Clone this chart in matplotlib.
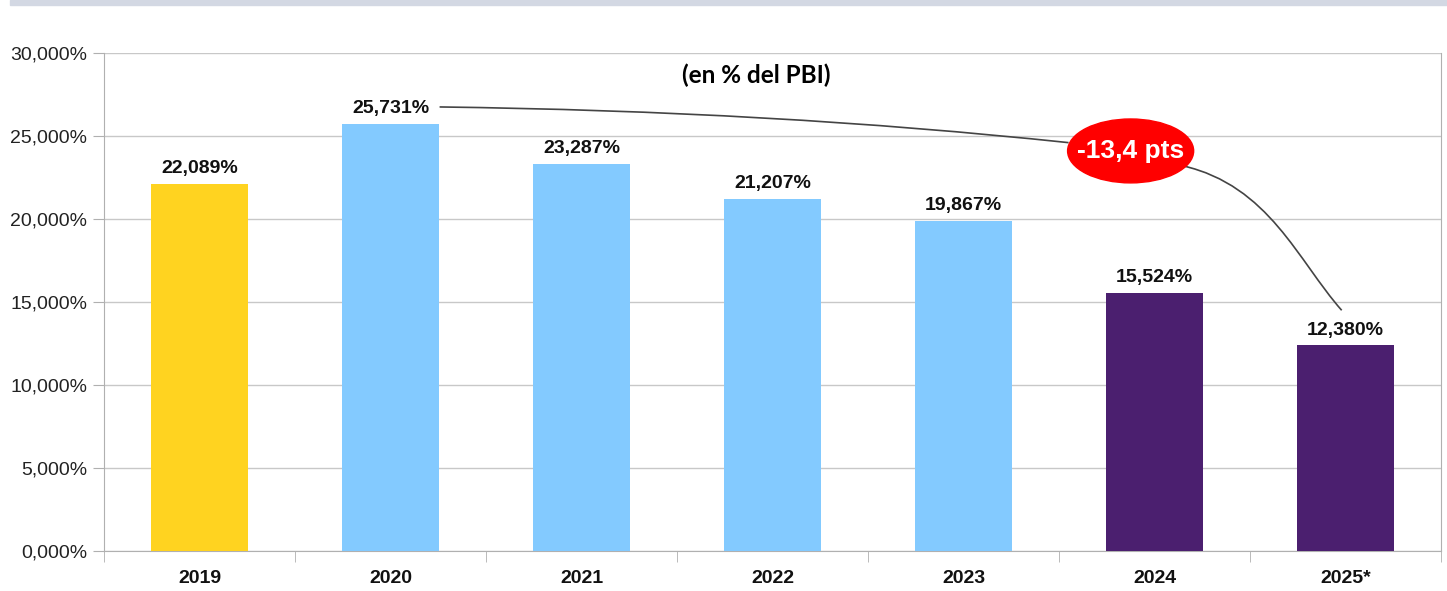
import matplotlib
matplotlib.use("Agg")
import matplotlib.pyplot as plt
from matplotlib.patches import Ellipse, Rectangle, PathPatch
from matplotlib.path import Path
from matplotlib.ticker import FuncFormatter

years = ["2019", "2020", "2021", "2022", "2023", "2024", "2025*"]
values = [22.089, 25.731, 23.287, 21.207, 19.867, 15.524, 12.380]
colors = ["#ffd320", "#83caff", "#83caff", "#83caff", "#83caff", "#4b1f6f", "#4b1f6f"]
yticks = [0, 5, 10, 15, 20, 25, 30]

plt.rcParams["font.family"] = ["Liberation Sans", "DejaVu Sans"]

fig = plt.figure(figsize=(14.47, 5.91), dpi=100)
ax = fig.add_axes([104 / 1447, 1 - 551 / 591, 1337 / 1447, 498 / 591])

# band at top of slide
fig.patches.append(Rectangle((10 / 1447, 1 - 5 / 591), 1, 5 / 591, transform=fig.transFigure,
                             color="#d3d8e3", zorder=0))

x = list(range(len(years)))
ax.bar(x, values, width=0.51, color=colors, zorder=3)
for xi, v in zip(x, values):
    ax.annotate(f"{v:.3f}%".replace(".", ","), (xi, v), textcoords="offset points",
                xytext=(0, 5), ha="center", va="bottom", fontsize=14, fontweight="bold",
                color="#111111", zorder=5)

ax.set_xlim(-0.5, len(years) - 0.5)
ax.set_ylim(0, 30)
ax.set_yticks(yticks)
ax.yaxis.set_major_formatter(FuncFormatter(lambda v, p: f"{v:.3f}%".replace(".", ",")))
ax.set_xticks(x)
ax.set_xticklabels(years, fontsize=14, fontweight="bold", color="#111111")
ax.set_xticks([i - 0.5 for i in range(len(years) + 1)], minor=True)
ax.tick_params(axis="x", which="major", length=0, pad=14)
ax.tick_params(axis="x", which="minor", length=8, color="#b0b0b0", direction="out")
ax.tick_params(axis="y", length=8, color="#b0b0b0", labelsize=14, labelcolor="#222222", pad=4)
ax.grid(axis="y", color="#c8c8c8", lw=1, zorder=0)
for s in ["left", "bottom", "right"]:
    ax.spines[s].set_color("#b0b0b0")
ax.spines["top"].set_visible(False)

ax.text(0.488, 0.955, "(en % del PBI)", transform=ax.transAxes, ha="center", va="center",
        fontsize=17.5, fontweight="bold", family=["Lato", "DejaVu Sans"])

# connector curve with the red ellipse
p1 = Path([(1.257, 26.75), (3.0, 26.5), (4.55, 24.6)],
          [Path.MOVETO, Path.CURVE3, Path.CURVE3])
ax.add_patch(PathPatch(p1, fc="none", ec="#444444", lw=1.2, zorder=4))
p2 = Path([(5.15, 23.2), (5.6, 22.0), (5.75, 17.5), (5.98, 14.5)],
          [Path.MOVETO, Path.CURVE4, Path.CURVE4, Path.CURVE4])
ax.add_patch(PathPatch(p2, fc="none", ec="#444444", lw=1.2, zorder=4))
ax.add_patch(Ellipse((4.875, 24.1), 0.66, 3.85, color="#ff0000", zorder=6))
ax.text(4.875, 24.1, "-13,4 pts", ha="center", va="center", fontsize=19,
        fontweight="bold", color="white", zorder=7)

fig.savefig("out.png", dpi=100)
